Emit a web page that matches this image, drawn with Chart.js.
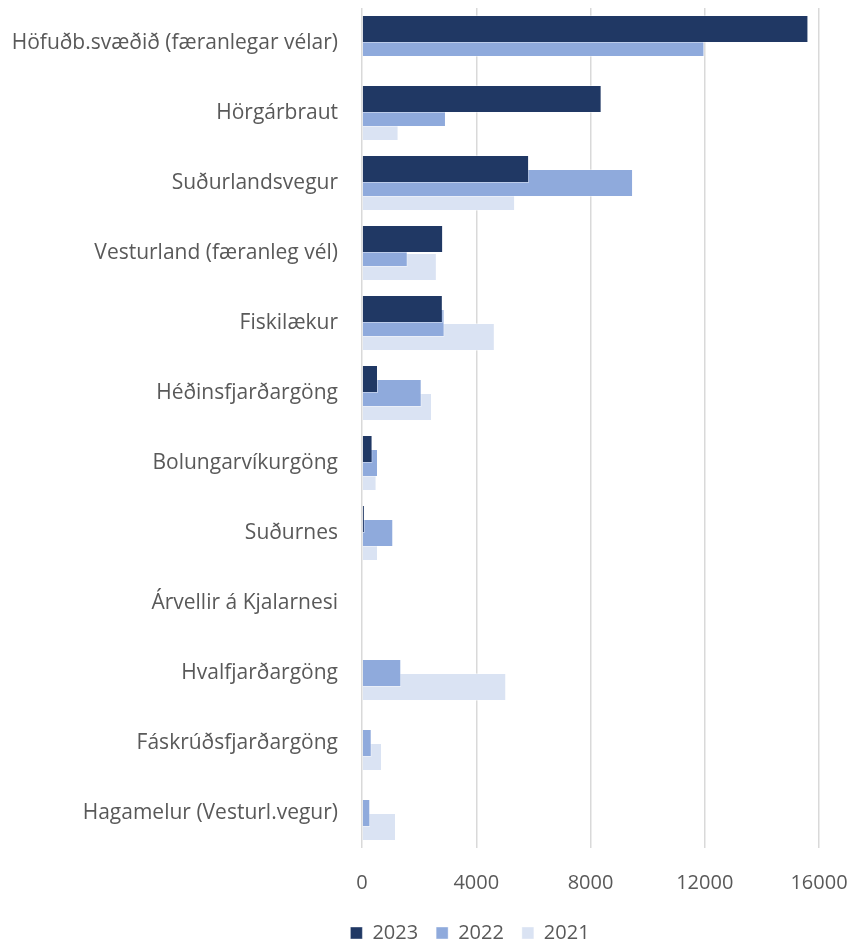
<!DOCTYPE html>
<html>
<head>
<meta charset="utf-8">
<script src="https://cdn.jsdelivr.net/npm/chart.js@4.4.1/dist/chart.umd.min.js"></script>
<style>
  html, body { margin: 0; padding: 0; background: #fff; }
</style>
</head>
<body>
<canvas id="chart" width="853" height="944"></canvas>
<script>
// Flokkar og gildi lesin af myndinni
const categories = [
  'Höfuðb.svæðið (færanlegar vélar)',
  'Hörgárbraut',
  'Suðurlandsvegur',
  'Vesturland (færanleg vél)',
  'Fiskilækur',
  'Héðinsfjarðargöng',
  'Bolungarvíkurgöng',
  'Suðurnes',
  'Árvellir á Kjalarnesi',
  'Hvalfjarðargöng',
  'Fáskrúðsfjarðargöng',
  'Hagamelur (Vesturl.vegur)'
];
const values2023 = [15630, 8390, 5850, 2840, 2830, 560, 370, 100, 0, 0, 0, 0];
const values2022 = [11990, 2940, 9490, 1600, 2890, 2090, 560, 1095, 0, 1375, 340, 290];
const values2021 = [0, 1280, 5360, 2620, 4650, 2450, 510, 560, 0, 5050, 700, 1190];
const xTicks = [0, 4000, 8000, 12000, 16000];

const textColor = '#595959';
const fontFamily = '"Open Sans", sans-serif';

// Færir skýringuna til svo hún standi eins og í Excel myndinni
const legendShift = {
  id: 'legendShift',
  afterLayout(chart) {
    const lg = chart.legend;
    if (!lg) return;
    const dx = 470 - (lg.left + lg.right) / 2;
    lg.left += dx;
    lg.right += dx;
    lg.top += 9;
    lg.bottom += 9;
  }
};

new Chart(document.getElementById('chart'), {
  type: 'bar',
  data: {
    labels: categories,
    datasets: [
      { label: '2023', data: values2023, backgroundColor: '#203864', borderColor: 'rgba(255,255,255,0.4)', borderWidth: 1 },
      { label: '2022', data: values2022, backgroundColor: '#8FAADC', borderColor: 'rgba(255,255,255,0.4)', borderWidth: 1 },
      { label: '2021', data: values2021, backgroundColor: '#DAE3F3', borderColor: 'rgba(255,255,255,0.4)', borderWidth: 1 }
    ]
  },
  options: {
    indexAxis: 'y',
    responsive: false,
    animation: false,
    categoryPercentage: 0.6,
    barPercentage: 2.0,
    layout: { padding: { left: 0, right: 34, top: 8, bottom: 0 } },
    scales: {
      x: {
        min: 0,
        max: 16000,
        afterBuildTicks: s => { s.ticks = xTicks.map(v => ({ value: v })); },
        afterFit: s => { s.height = 48; s.paddingLeft = 0; s.paddingRight = 0; },
        grid: { color: '#d9d9d9', lineWidth: 1.5, drawTicks: false },
        border: { display: false },
        ticks: {
          color: textColor,
          padding: 23,
          callback: v => String(v),
          font: { family: fontFamily, size: 20 }
        }
      },
      y: {
        afterFit: s => { s.width = 362; s.paddingTop = 0; s.paddingBottom = 0; },
        grid: { display: false, drawTicks: false },
        border: { display: false },
        ticks: { color: textColor, padding: 24, autoSkip: false, font: { family: fontFamily, size: 21 } }
      }
    },
    plugins: {
      tooltip: { enabled: false },
      legend: {
        position: 'bottom',
        labels: {
          color: textColor,
          boxWidth: 12,
          boxHeight: 12,
          padding: 18,
          font: { family: fontFamily, size: 20 }
        }
      }
    }
  },
  plugins: [legendShift]
});
</script>
</body>
</html>
